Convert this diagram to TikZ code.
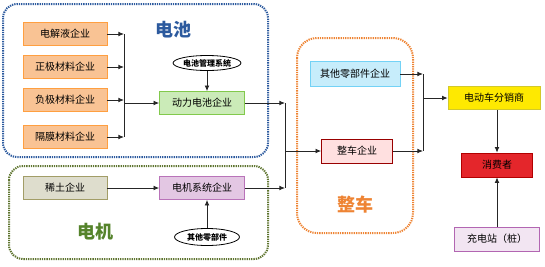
\documentclass[tikz,border=0pt]{standalone}
\usepackage{fontspec}
\setmainfont{Noto Sans CJK SC}
\usepackage{xcolor}
\usetikzlibrary{arrows.meta,positioning,shapes.geometric}
\definecolor{battblue}{HTML}{2C5A9E}
\definecolor{motorgreen}{HTML}{5F7530}
\definecolor{carorange}{HTML}{EE8434}
\definecolor{peach}{HTML}{F9C394}
\definecolor{consred}{HTML}{E4262B}
\begin{document}
\begin{tikzpicture}[
x=1pt,y=-1pt,
box/.style={draw,line width=0.6pt,align=center,minimum width=84pt,minimum height=23pt,inner sep=1pt,font=\fontsize{10}{12}\selectfont},
oval/.style={draw,ellipse,thick,minimum width=65pt,minimum height=15pt,inner sep=0pt,font=\fontsize{8}{9}\selectfont\bfseries},
region/.style={line width=2pt,dash pattern=on 1.3pt off 1pt,rounded corners=14pt},
title/.style={font=\fontsize{18}{20}\selectfont\bfseries},
arr/.style={-{Latex[length=2mm,width=1.7mm]},line width=0.9pt,black!85},
line/.style={line width=0.9pt,black!85}
]
\useasboundingbox (0,0) rectangle (545,266);
% regions
\draw[region,battblue] (3,4) rectangle (268,157);
\draw[region,motorgreen] (9,166) rectangle (268,259);
\draw[region,carorange,rounded corners=20pt] (297,38) rectangle (413,233);
\node[title,battblue] (tbat) at (173,30) {电池};
\node[title,motorgreen!90!green] (tmot) at (95,232) {电机};
\node[title,carorange] (tcar) at (355,205) {整车};
% battery chain
\node[box,fill=peach,draw=orange!75] (ele) at (65,34) {电解液企业};
\node[box,fill=peach,draw=orange!75] (pos) at (65,67) {正极材料企业};
\node[box,fill=peach,draw=orange!75] (neg) at (65,100) {负极材料企业};
\node[box,fill=peach,draw=orange!75] (sep) at (65,137) {隔膜材料企业};
\node[box,fill=green!45!olive!28,draw=green!40!olive!70,minimum width=85pt] (bat) at (202,103) {动力电池企业};
\node[oval] (bms) at (207,63) {电池管理系统};
% motor chain
\node[box,fill=olive!25!gray!30,draw=olive!60!black!60] (rare) at (65,188) {稀土企业};
\node[box,fill=violet!22,draw=violet!55,minimum width=85pt] (mot) at (202,188) {电机系统企业};
\node[oval,minimum height=17pt] (oth) at (207,237) {其他零部件};
% vehicle
\node[box,fill=cyan!22,draw=cyan!55,minimum width=90pt,minimum height=25pt] (parts) at (355,74) {其他零部件企业};
\node[box,fill=red!12,draw=red!60!black,minimum width=71pt,minimum height=24pt] (oem) at (357,151) {整车企业};
% market
\node[box,fill=yellow!92!orange,draw=yellow!80!black,minimum width=92pt] (deal) at (494,98) {电动车分销商};
\node[box,fill=consred,draw=red!70!black,minimum width=71pt,minimum height=24pt] (user) at (497,165) {消费者};
\node[box,fill=violet!10,draw=violet!60,minimum width=85pt,minimum height=24pt] (chg) at (497,239) {充电站（桩）};
% buses
\coordinate (b1) at (124,103);
\coordinate (b2) at (285,151);
\coordinate (b3) at (423,98);
\foreach \n in {ele,pos,neg,sep}
  \draw[arr] (\n.east) -- (\n.east -| b1);
\draw[line] (ele.east -| b1) -- (sep.east -| b1);
\draw[arr] (b1) -- (bat.west |- b1);
\draw[arr] (bms) -- (bms |- bat.north);
\draw[arr] (rare) -- (mot);
\draw[arr] (oth) -- (oth |- mot.south);
\draw[arr] (bat.east) -- (bat.east -| b2);
\draw[arr] (mot.east) -- (mot.east -| b2);
\draw[line] (bat.east -| b2) -- (mot.east -| b2);
\draw[arr] (b2) -- (oem.west |- b2);
\draw[arr] (parts.east) -- (parts.east -| b3);
\draw[arr] (oem.east) -- (oem.east -| b3);
\draw[line] (parts.east -| b3) -- (oem.east -| b3);
\draw[arr] (b3) -- (deal.west |- b3);
\draw[arr] (deal.south -| user) -- (user.north);
\draw[arr] (chg) -- (user);
\end{tikzpicture}
\end{document}
